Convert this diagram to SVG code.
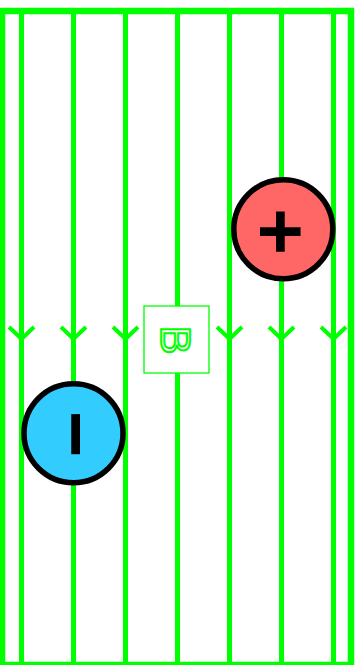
<svg xmlns="http://www.w3.org/2000/svg" width="362" height="665" viewBox="0 0 362 665">
<style>
.fl{stroke:#00ff00;stroke-width:5;fill:none}
.ah{stroke:#00ff00;stroke-width:4;fill:none}
.chg{stroke:#000;stroke-width:5.5}
.sign{font-family:"Liberation Sans",Arial,sans-serif;font-weight:bold;font-size:80px;fill:#000;text-anchor:middle}
</style>
<rect width="362" height="665" fill="#fff"/>
<g id="field">
<rect x="2" y="11" width="349" height="654" fill="none" stroke="#00ff00" stroke-width="6.5"/>
</g>
<g id="connectors">
<line class="fl" x1="21.5" y1="11" x2="21.5" y2="665"/>
<line class="fl" x1="73.5" y1="11" x2="73.5" y2="665"/>
<line class="fl" x1="125.5" y1="11" x2="125.5" y2="665"/>
<line class="fl" x1="177.5" y1="11" x2="177.5" y2="665"/>
<line class="fl" x1="229.5" y1="11" x2="229.5" y2="665"/>
<line class="fl" x1="281.5" y1="11" x2="281.5" y2="665"/>
<line class="fl" x1="333.5" y1="11" x2="333.5" y2="665"/>
<polyline class="ah" points="9,327 21.5,339 34,327"/>
<polyline class="ah" points="61,327 73.5,339 86,327"/>
<polyline class="ah" points="113,327 125.5,339 138,327"/>
<polyline class="ah" points="165,327 177.5,339 190,327"/>
<polyline class="ah" points="217,327 229.5,339 242,327"/>
<polyline class="ah" points="269,327 281.5,339 294,327"/>
<polyline class="ah" points="321,327 333.5,339 346,327"/>
</g>
<g id="label-B">
<rect x="144" y="306" width="65" height="67" fill="#fff" stroke="#00ff00" stroke-width="1.3"/>
<text transform="translate(176.5,340) rotate(90)" x="0" y="15.5" font-family="'Liberation Sans',Arial,sans-serif" font-size="43" text-anchor="middle" fill="#fff" stroke="#00ff00" stroke-width="2">B</text>
</g>
<g id="positive">
<circle class="chg" cx="283.3" cy="229.3" r="49.5" fill="#ff6666"/>
<text class="sign" transform="translate(280.5,231.7) rotate(90)" x="0" y="27">+</text>
</g>
<g id="negative">
<circle class="chg" cx="73.5" cy="433.3" r="49.5" fill="#33ccff"/>
<text class="sign" transform="translate(76.3,434.3) rotate(90)" x="0" y="27">−</text>
</g>
</svg>
